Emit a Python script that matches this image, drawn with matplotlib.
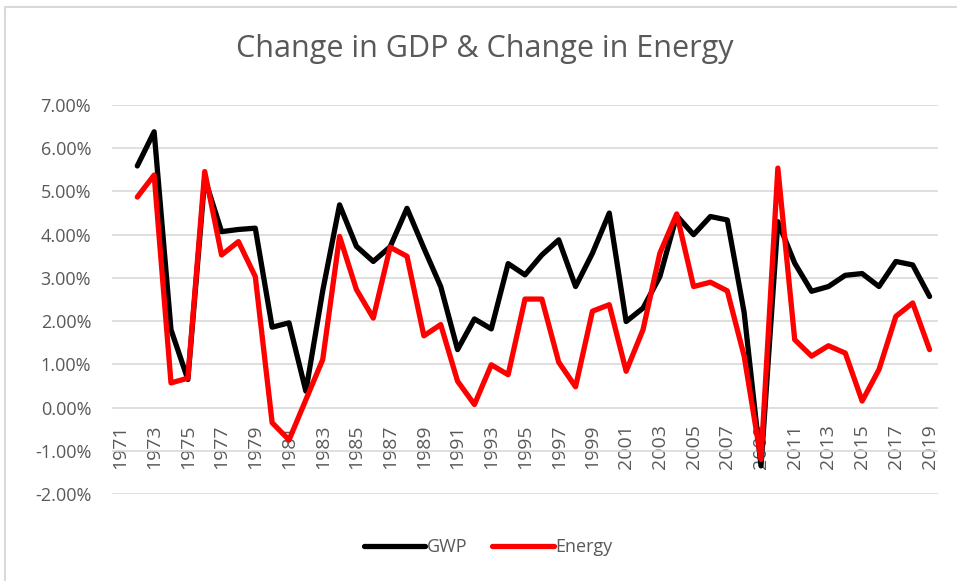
"""
Change in GDP & Change in Energy - line chart recreation
"""
import matplotlib
matplotlib.use("Agg")
import matplotlib.pyplot as plt
from matplotlib.patches import Rectangle
from matplotlib.ticker import PercentFormatter
import numpy as np

plt.rcParams["axes.unicode_minus"] = False

years = list(range(1971, 2020))

# annual change, percent (1971 has no value)
gwp = [np.nan,
       5.59, 6.38, 1.80, 0.65, 5.30, 4.07, 4.12, 4.15, 1.86, 1.96,
       0.38, 2.70, 4.69, 3.73, 3.38, 3.72, 4.61, 3.69, 2.80, 1.34,
       2.05, 1.82, 3.33, 3.07, 3.53, 3.88, 2.80, 3.57, 4.50, 1.99,
       2.30, 3.03, 4.44, 4.00, 4.42, 4.34, 2.20, -1.35, 4.30, 3.34,
       2.69, 2.80, 3.06, 3.10, 2.80, 3.38, 3.30, 2.57]

energy = [np.nan,
          4.87, 5.38, 0.57, 0.68, 5.46, 3.53, 3.84, 3.03, -0.35, -0.75,
          0.18, 1.11, 3.96, 2.73, 2.07, 3.71, 3.50, 1.66, 1.92, 0.61,
          0.07, 0.99, 0.76, 2.51, 2.51, 1.05, 0.48, 2.23, 2.38, 0.84,
          1.80, 3.57, 4.48, 2.80, 2.90, 2.70, 1.19, -1.20, 5.54, 1.57,
          1.19, 1.43, 1.26, 0.15, 0.88, 2.11, 2.42, 1.34]

series_names = ["GWP", "Energy"]
series_colors = ["#000000", "#ff0000"]

text_color = "#595959"
grid_color = "#d9d9d9"
font = "Open Sans"

fig = plt.figure(figsize=(9.57, 5.81), dpi=100)
ax = fig.add_axes([112 / 957, 1 - 494 / 581, 826 / 957, 389 / 581])

for vals, name, col in zip([gwp, energy], series_names, series_colors):
    ax.plot(years, vals, color=col, lw=3.8, label=name,
            solid_joinstyle="round", solid_capstyle="round")

ax.set_xlim(1970.5, 2019.5)
ax.set_ylim(-2, 7)
ax.set_yticks(np.arange(-2, 8, 1))
ax.yaxis.set_major_formatter(PercentFormatter(decimals=2))
ax.set_xticks(years[::2])
ax.set_xticklabels([str(y) for y in years[::2]])

ax.grid(axis="y", color=grid_color, lw=1.2)
ax.set_axisbelow(True)
for side in ["top", "right", "left"]:
    ax.spines[side].set_visible(False)
ax.spines["bottom"].set_position(("data", 0))
ax.spines["bottom"].set_visible(False)

ax.tick_params(axis="y", length=0, pad=15, labelsize=13, labelcolor=text_color)
ax.tick_params(axis="x", length=0, pad=12, labelsize=14, labelcolor=text_color,
               labelrotation=90)
for lbl in ax.get_xticklabels() + ax.get_yticklabels():
    lbl.set_fontfamily(font)

fig.text(0.507, 0.915, "Change in GDP & Change in Energy", ha="center",
         va="center", fontsize=22, color=text_color, family=font)

fig.legend(loc="center", bbox_to_anchor=(0.51, 0.058), ncol=2, frameon=False,
           handlelength=3.4, handletextpad=0.08, columnspacing=1.4,
           prop={"family": font, "size": 13}, labelcolor=text_color)

# chart area border
fig.patches.append(Rectangle((5 / 957, -0.1), 1.1, 1 - 7 / 581 + 0.1,
                             transform=fig.transFigure, fill=False,
                             edgecolor=grid_color, lw=1.5))

fig.savefig("out.png", dpi=100)
